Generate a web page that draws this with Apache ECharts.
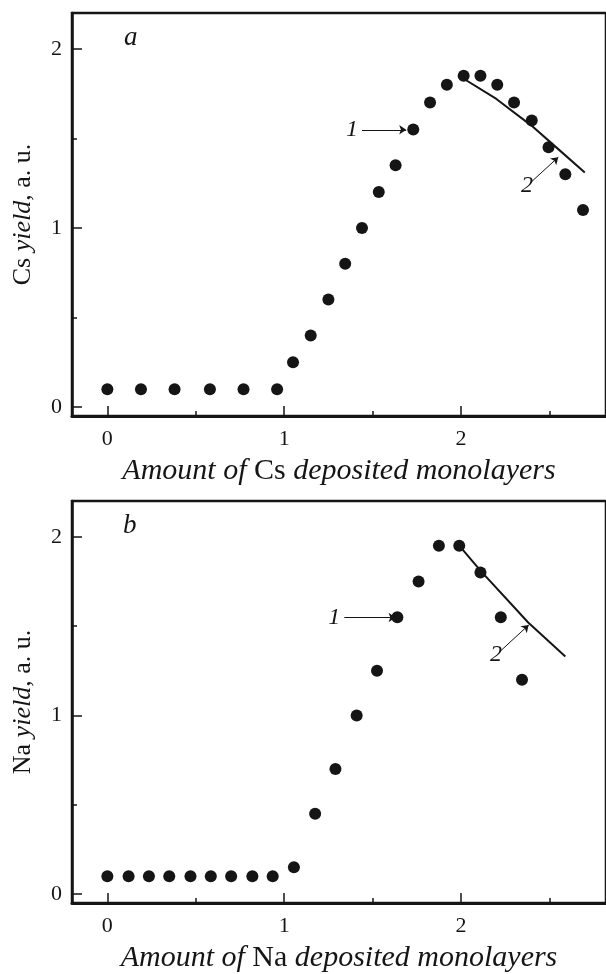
<!DOCTYPE html>
<html>
<head>
<meta charset="utf-8">
<script src="https://cdn.jsdelivr.net/npm/echarts@6/dist/echarts.min.js"></script>
<style>
  html, body { margin: 0; padding: 0; background: #fff; }
  #chart { width: 606px; height: 974px; }
</style>
</head>
<body>
<div id="chart"></div>
<script>
// panel a: Cs
const csX = [0, 0.19, 0.38, 0.58, 0.77, 0.96, 1.05, 1.15, 1.25, 1.345, 1.44, 1.535, 1.63, 1.73, 1.825, 1.92, 2.015, 2.11, 2.205, 2.3, 2.4, 2.495, 2.59, 2.69]
const csY = [0.1, 0.1, 0.1, 0.1, 0.1, 0.1, 0.25, 0.4, 0.6, 0.8, 1.0, 1.2, 1.35, 1.55, 1.7, 1.8, 1.85, 1.85, 1.8, 1.7, 1.6, 1.45, 1.3, 1.1]
const csFitX = [2.02, 2.2, 2.4, 2.55, 2.7]
const csFitY = [1.83, 1.72, 1.57, 1.44, 1.31]

// panel b: Na
const naX = [0, 0.12, 0.235, 0.35, 0.47, 0.585, 0.7, 0.82, 0.935, 1.055, 1.175, 1.29, 1.41, 1.525, 1.64, 1.76, 1.875, 1.99, 2.11, 2.225, 2.345]
const naY = [0.1, 0.1, 0.1, 0.1, 0.1, 0.1, 0.1, 0.1, 0.1, 0.15, 0.45, 0.7, 1.0, 1.25, 1.55, 1.75, 1.95, 1.95, 1.8, 1.55, 1.2]
const naFitX = [1.99, 2.11, 2.38, 2.59]
const naFitY = [1.95, 1.81, 1.52, 1.33]

const xTicks = [0, 1, 2]
const xMinorTicks = [0.5, 1.5, 2.5]
const yTicks = [0, 1, 2]
const yMinorTicks = [0.5, 1.5]

// annotation arrows [[x1, y1], [x2, y2], label]
const csArrows = [
    [[1.44, 1.548], [1.69, 1.548], "1"],
    [[2.39, 1.25], [2.55, 1.395], "2"]
]
const naArrows = [
    [[1.34, 1.548], [1.63, 1.548], "1"],
    [[2.215, 1.353], [2.383, 1.506], "2"]
]

const FONT = "Liberation Serif"
const INK = "#151515"

const zip = (xs, ys) => xs.map((x, i) => [x, ys[i]])

const makeX = (grid, minor, title) => {
    const base = {
        type: "value",
        gridIndex: grid,
        position: "bottom",
        min: -0.2,
        max: 2.82,
        splitLine: { show: false }
    }
    if (minor) {
        return Object.assign(base, {
            axisLine: { show: false, onZero: false },
            axisLabel: { show: false },
            axisTick: { inside: true, length: 5, customValues: xMinorTicks, lineStyle: { color: INK, width: 1.5 } }
        })
    }
    return Object.assign(base, {
        axisLine: { onZero: false, lineStyle: { color: INK, width: 3 } },
        axisTick: { inside: true, length: 10, customValues: xTicks, lineStyle: { color: INK, width: 1.5 } },
        axisLabel: { customValues: xTicks, margin: 12, color: INK, fontFamily: FONT, fontSize: 22 },
        name: "{i|Amount of }{r|" + title + "}{i| deposited monolayers}",
        nameLocation: "middle",
        nameGap: 40,
        nameTextStyle: {
            rich: {
                i: { fontFamily: FONT, fontStyle: "italic", fontSize: 30, color: INK },
                r: { fontFamily: FONT, fontSize: 30, color: INK }
            }
        }
    })
}

const makeY = (grid, minor, title) => {
    const base = {
        type: "value",
        gridIndex: grid,
        position: "left",
        min: -0.05,
        max: 2.2,
        splitLine: { show: false }
    }
    if (minor) {
        return Object.assign(base, {
            axisLine: { show: false, onZero: false },
            axisLabel: { show: false },
            axisTick: { inside: true, length: 5, customValues: yMinorTicks, lineStyle: { color: INK, width: 1.5 } }
        })
    }
    return Object.assign(base, {
        axisLine: { onZero: false, lineStyle: { color: INK, width: 2.5 } },
        axisTick: { inside: true, length: 10, customValues: yTicks, lineStyle: { color: INK, width: 1.5 } },
        axisLabel: { customValues: yTicks, margin: 10, color: INK, fontFamily: FONT, fontSize: 22 },
        name: "{r|" + title + " }{i|yield}{r|, a. u.}",
        nameLocation: "middle",
        nameRotate: 90,
        nameGap: 36,
        nameTextStyle: {
            rich: {
                i: { fontFamily: FONT, fontStyle: "italic", fontSize: 26, color: INK },
                r: { fontFamily: FONT, fontSize: 26, color: INK }
            }
        }
    })
}

const arrowLines = (arrows) => ({
    silent: true,
    symbol: ["none", "arrow"],
    symbolSize: 7,
    lineStyle: { color: INK, width: 1, type: "solid", opacity: 1 },
    label: {
        show: true,
        position: "start",
        distance: 4,
        fontFamily: FONT,
        fontStyle: "italic",
        fontSize: 24,
        color: INK,
        formatter: (p) => p.name
    },
    emphasis: { disabled: true },
    data: arrows.map(a => [{ coord: a[0], name: a[2] }, { coord: a[1] }])
})

const scatter = (idx, xs, ys, arrows) => ({
    type: "scatter",
    xAxisIndex: idx * 2,
    yAxisIndex: idx * 2,
    symbol: "circle",
    symbolSize: 12,
    itemStyle: { color: INK, opacity: 1 },
    data: zip(xs, ys),
    markLine: arrowLines(arrows)
})

const fit = (idx, xs, ys) => ({
    type: "line",
    xAxisIndex: idx * 2,
    yAxisIndex: idx * 2,
    smooth: false,
    showSymbol: false,
    lineStyle: { color: INK, width: 2 },
    data: zip(xs, ys)
})

const chart = echarts.init(document.getElementById("chart"), null, { renderer: "canvas" })

const option = {
    animation: false,
    backgroundColor: "#fff",
    grid: [
        { left: 72, top: 13, right: -4, height: 403, show: true, borderColor: INK, borderWidth: 2.5 },
        { left: 72, top: 501, right: -4, height: 404, show: true, borderColor: INK, borderWidth: 2.5 }
    ],
    xAxis: [makeX(0, false, "Cs"), makeX(0, true), makeX(1, false, "Na"), makeX(1, true)],
    yAxis: [makeY(0, false, "Cs"), makeY(0, true), makeY(1, false, "Na"), makeY(1, true)],
    graphic: [
        { type: "text", left: 124, top: 24, style: { text: "a", fontFamily: FONT, fontStyle: "italic", fontSize: 27, fill: INK } },
        { type: "text", left: 123, top: 512, style: { text: "b", fontFamily: FONT, fontStyle: "italic", fontSize: 27, fill: INK } }
    ],
    series: [
        scatter(0, csX, csY, csArrows),
        fit(0, csFitX, csFitY),
        scatter(1, naX, naY, naArrows),
        fit(1, naFitX, naFitY)
    ]
}

chart.setOption(option)
</script>
</body>
</html>
